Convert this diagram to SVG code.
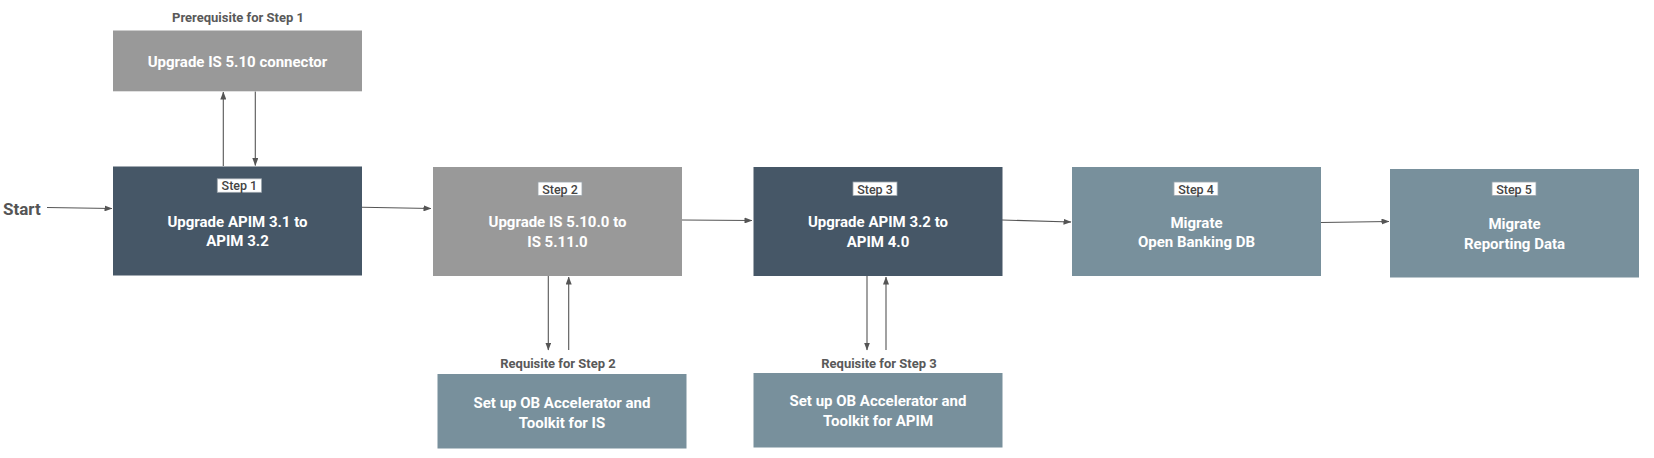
<svg xmlns="http://www.w3.org/2000/svg" width="1654" height="458" viewBox="0 0 1654 458">
<style>
.dark{fill:#465767}
.gray{fill:#999999}
.teal{fill:#78909C}
.t{font-family:Roboto,"Liberation Sans",sans-serif;font-weight:700;font-size:15px;fill:#ffffff;text-anchor:middle}
.cap{font-family:Roboto,"Liberation Sans",sans-serif;font-weight:700;font-size:13px;fill:#595959;text-anchor:middle}
.lbl{fill:#ffffff;stroke:#9aa3ab;stroke-width:0.8}
.lt{font-family:Roboto,"Liberation Sans",sans-serif;font-weight:500;font-size:12.5px;fill:#444444;text-anchor:middle}
.start{font-family:Roboto,"Liberation Sans",sans-serif;font-weight:700;font-size:17px;fill:#555555}
.c{stroke:#555555;stroke-width:1.1;fill:none;marker-end:url(#ah)}
</style>
<defs>
<marker id="ah" markerWidth="8" markerHeight="6" refX="7.5" refY="3" orient="auto" markerUnits="userSpaceOnUse">
<path d="M0,0 L8,3 L0,6 Z" fill="#555555"/>
</marker>
</defs>
<rect width="1654" height="458" fill="#ffffff"/>

<g id="connectors">
<line class="c" x1="47" y1="207.5" x2="112" y2="208.5"/>
<line class="c" x1="362" y1="207.3" x2="431" y2="208.5"/>
<line class="c" x1="682" y1="220" x2="752" y2="220.5"/>
<line class="c" x1="1002" y1="220" x2="1071" y2="222"/>
<line class="c" x1="1321" y1="222.5" x2="1389" y2="221.5"/>
<line class="c" x1="223.3" y1="166" x2="223.3" y2="92"/>
<line class="c" x1="255.3" y1="91.5" x2="255.3" y2="165.5"/>
<line class="c" x1="548.3" y1="276" x2="548.3" y2="350"/>
<line class="c" x1="568.7" y1="350" x2="568.7" y2="277"/>
<line class="c" x1="867" y1="276" x2="867" y2="350"/>
<line class="c" x1="886" y1="350" x2="886" y2="277"/>
</g>

<g id="start">
<text class="start" x="3" y="214.5">Start</text>
</g>

<g id="prereq">
<text class="cap" x="238" y="21.5">Prerequisite for Step 1</text>
<rect class="gray" x="113" y="30.5" width="249" height="60.8"/>
<text class="t" x="237.5" y="66.5">Upgrade IS 5.10 connector</text>
</g>

<g id="step1">
<rect class="dark" x="113" y="166.5" width="249" height="109"/>
<rect class="lbl" x="217.3" y="178.8" width="44.2" height="13.5"/>
<text class="lt" x="239.4" y="190.2">Step 1</text>
<text class="t" x="237.5" y="226.5">Upgrade APIM 3.1 to</text>
<text class="t" x="237.5" y="246">APIM 3.2</text>
</g>

<g id="step2">
<rect class="gray" x="433" y="167" width="249" height="109"/>
<rect class="lbl" x="538" y="182" width="44" height="13.5"/>
<text class="lt" x="560" y="193.5">Step 2</text>
<text class="t" x="557.5" y="226.5">Upgrade IS 5.10.0 to</text>
<text class="t" x="557.5" y="246.5">IS 5.11.0</text>
</g>

<g id="step3">
<rect class="dark" x="753.5" y="167" width="249" height="109"/>
<rect class="lbl" x="853" y="182" width="44" height="13.5"/>
<text class="lt" x="875" y="193.5">Step 3</text>
<text class="t" x="878" y="226.5">Upgrade APIM 3.2 to</text>
<text class="t" x="878" y="246.5">APIM 4.0</text>
</g>

<g id="step4">
<rect class="teal" x="1072" y="167" width="249" height="109"/>
<rect class="lbl" x="1174" y="182" width="44" height="13.5"/>
<text class="lt" x="1196" y="193.5">Step 4</text>
<text class="t" x="1196.5" y="227.5">Migrate</text>
<text class="t" x="1196.5" y="246.5">Open Banking DB</text>
</g>

<g id="step5">
<rect class="teal" x="1390" y="169" width="249" height="108.5"/>
<rect class="lbl" x="1492" y="182" width="44" height="13.5"/>
<text class="lt" x="1514" y="193.5">Step 5</text>
<text class="t" x="1514.5" y="228.5">Migrate</text>
<text class="t" x="1514.5" y="248.5">Reporting Data</text>
</g>

<g id="req2">
<text class="cap" x="558" y="367.5">Requisite for Step 2</text>
<rect class="teal" x="437.5" y="374" width="249" height="74.5"/>
<text class="t" x="562" y="407.5">Set up OB Accelerator and</text>
<text class="t" x="562" y="427.5">Toolkit for IS</text>
</g>

<g id="req3">
<text class="cap" x="879" y="367.5">Requisite for Step 3</text>
<rect class="teal" x="753.5" y="373" width="249" height="74.5"/>
<text class="t" x="878" y="405.5">Set up OB Accelerator and</text>
<text class="t" x="878" y="425.5">Toolkit for APIM</text>
</g>
</svg>
